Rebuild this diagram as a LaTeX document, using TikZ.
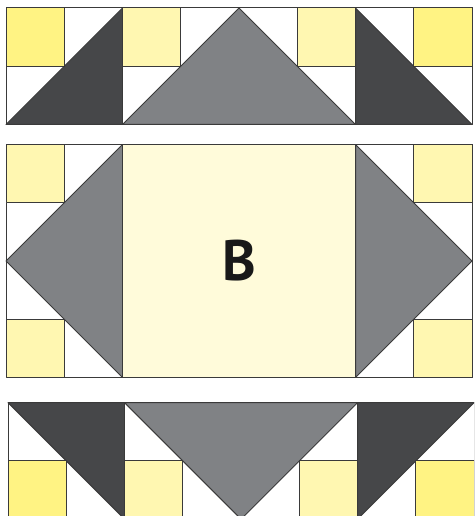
\documentclass[tikz,border=0pt]{standalone}
\usepackage{fontspec}
\setsansfont{PT Sans}
\usetikzlibrary{positioning}
\definecolor{qDark}{HTML}{464749}
\definecolor{qGray}{HTML}{808285}
\definecolor{qGold}{HTML}{FFF383}
\definecolor{qLemon}{HTML}{FFF7B1}
\definecolor{qCream}{HTML}{FFFBDA}
\definecolor{qSeam}{HTML}{3A3A3A}

\begin{document}
\begin{tikzpicture}[x=58.25pt,y=-58.25pt,
  patch/.style={fill=#1,draw=qSeam,line width=1pt,line join=round},
  lbl/.style={font=\sffamily\bfseries\fontsize{57}{57}\selectfont,text=black!90}]
  \useasboundingbox (-6pt,8pt) rectangle (468pt,-508pt);
  \clip (-6pt,8pt) rectangle (468pt,-508pt);
  \coordinate (topRow) at (0pt,0pt);
  \coordinate (midRow) at (0pt,-136.5pt);
  \coordinate (botRow) at (2pt,-394.7pt);
  % top row
  \begin{scope}[shift=(topRow)]
    \draw[patch=white] (0,0) rectangle (2,2);
    \draw[patch=qDark] (0,2) -- (2,0) -- (2,2) -- cycle;
    \draw[patch=qGold] (0,0) rectangle (1,1);
    \draw[patch=white] (2,0) rectangle (6,2);
    \draw[patch=qGray] (2,2) -- (4,0) -- (6,2) -- cycle;
    \draw[patch=qLemon] (2,0) rectangle (3,1);
    \draw[patch=qLemon] (5,0) rectangle (6,1);
    \draw[patch=white] (6,0) rectangle (8,2);
    \draw[patch=qDark] (6,0) -- (6,2) -- (8,2) -- cycle;
    \draw[patch=qGold] (7,0) rectangle (8,1);
  \end{scope}
  % middle row
  \begin{scope}[shift=(midRow)]
    \draw[patch=white] (0,0) rectangle (2,4);
    \draw[patch=qGray] (2,0) -- (0,2) -- (2,4) -- cycle;
    \draw[patch=qLemon] (0,0) rectangle (1,1);
    \draw[patch=qLemon] (0,3) rectangle (1,4);
    \draw[patch=qCream] (2,0) rectangle (6,4);
    \node[lbl] (blockB) at (4,2) {B};
    \draw[patch=white] (6,0) rectangle (8,4);
    \draw[patch=qGray] (6,0) -- (8,2) -- (6,4) -- cycle;
    \draw[patch=qLemon] (7,0) rectangle (8,1);
    \draw[patch=qLemon] (7,3) rectangle (8,4);
  \end{scope}
  % bottom row
  \begin{scope}[shift=(botRow)]
    \draw[patch=white] (0,0) rectangle (2,2);
    \draw[patch=qDark] (0,0) -- (2,0) -- (2,2) -- cycle;
    \draw[patch=qGold] (0,1) rectangle (1,2);
    \draw[patch=white] (2,0) rectangle (6,2);
    \draw[patch=qGray] (2,0) -- (6,0) -- (4,2) -- cycle;
    \draw[patch=qLemon] (2,1) rectangle (3,2);
    \draw[patch=qLemon] (5,1) rectangle (6,2);
    \draw[patch=white] (6,0) rectangle (8,2);
    \draw[patch=qDark] (6,0) -- (8,0) -- (6,2) -- cycle;
    \draw[patch=qGold] (7,1) rectangle (8,2);
  \end{scope}
\end{tikzpicture}
\end{document}
